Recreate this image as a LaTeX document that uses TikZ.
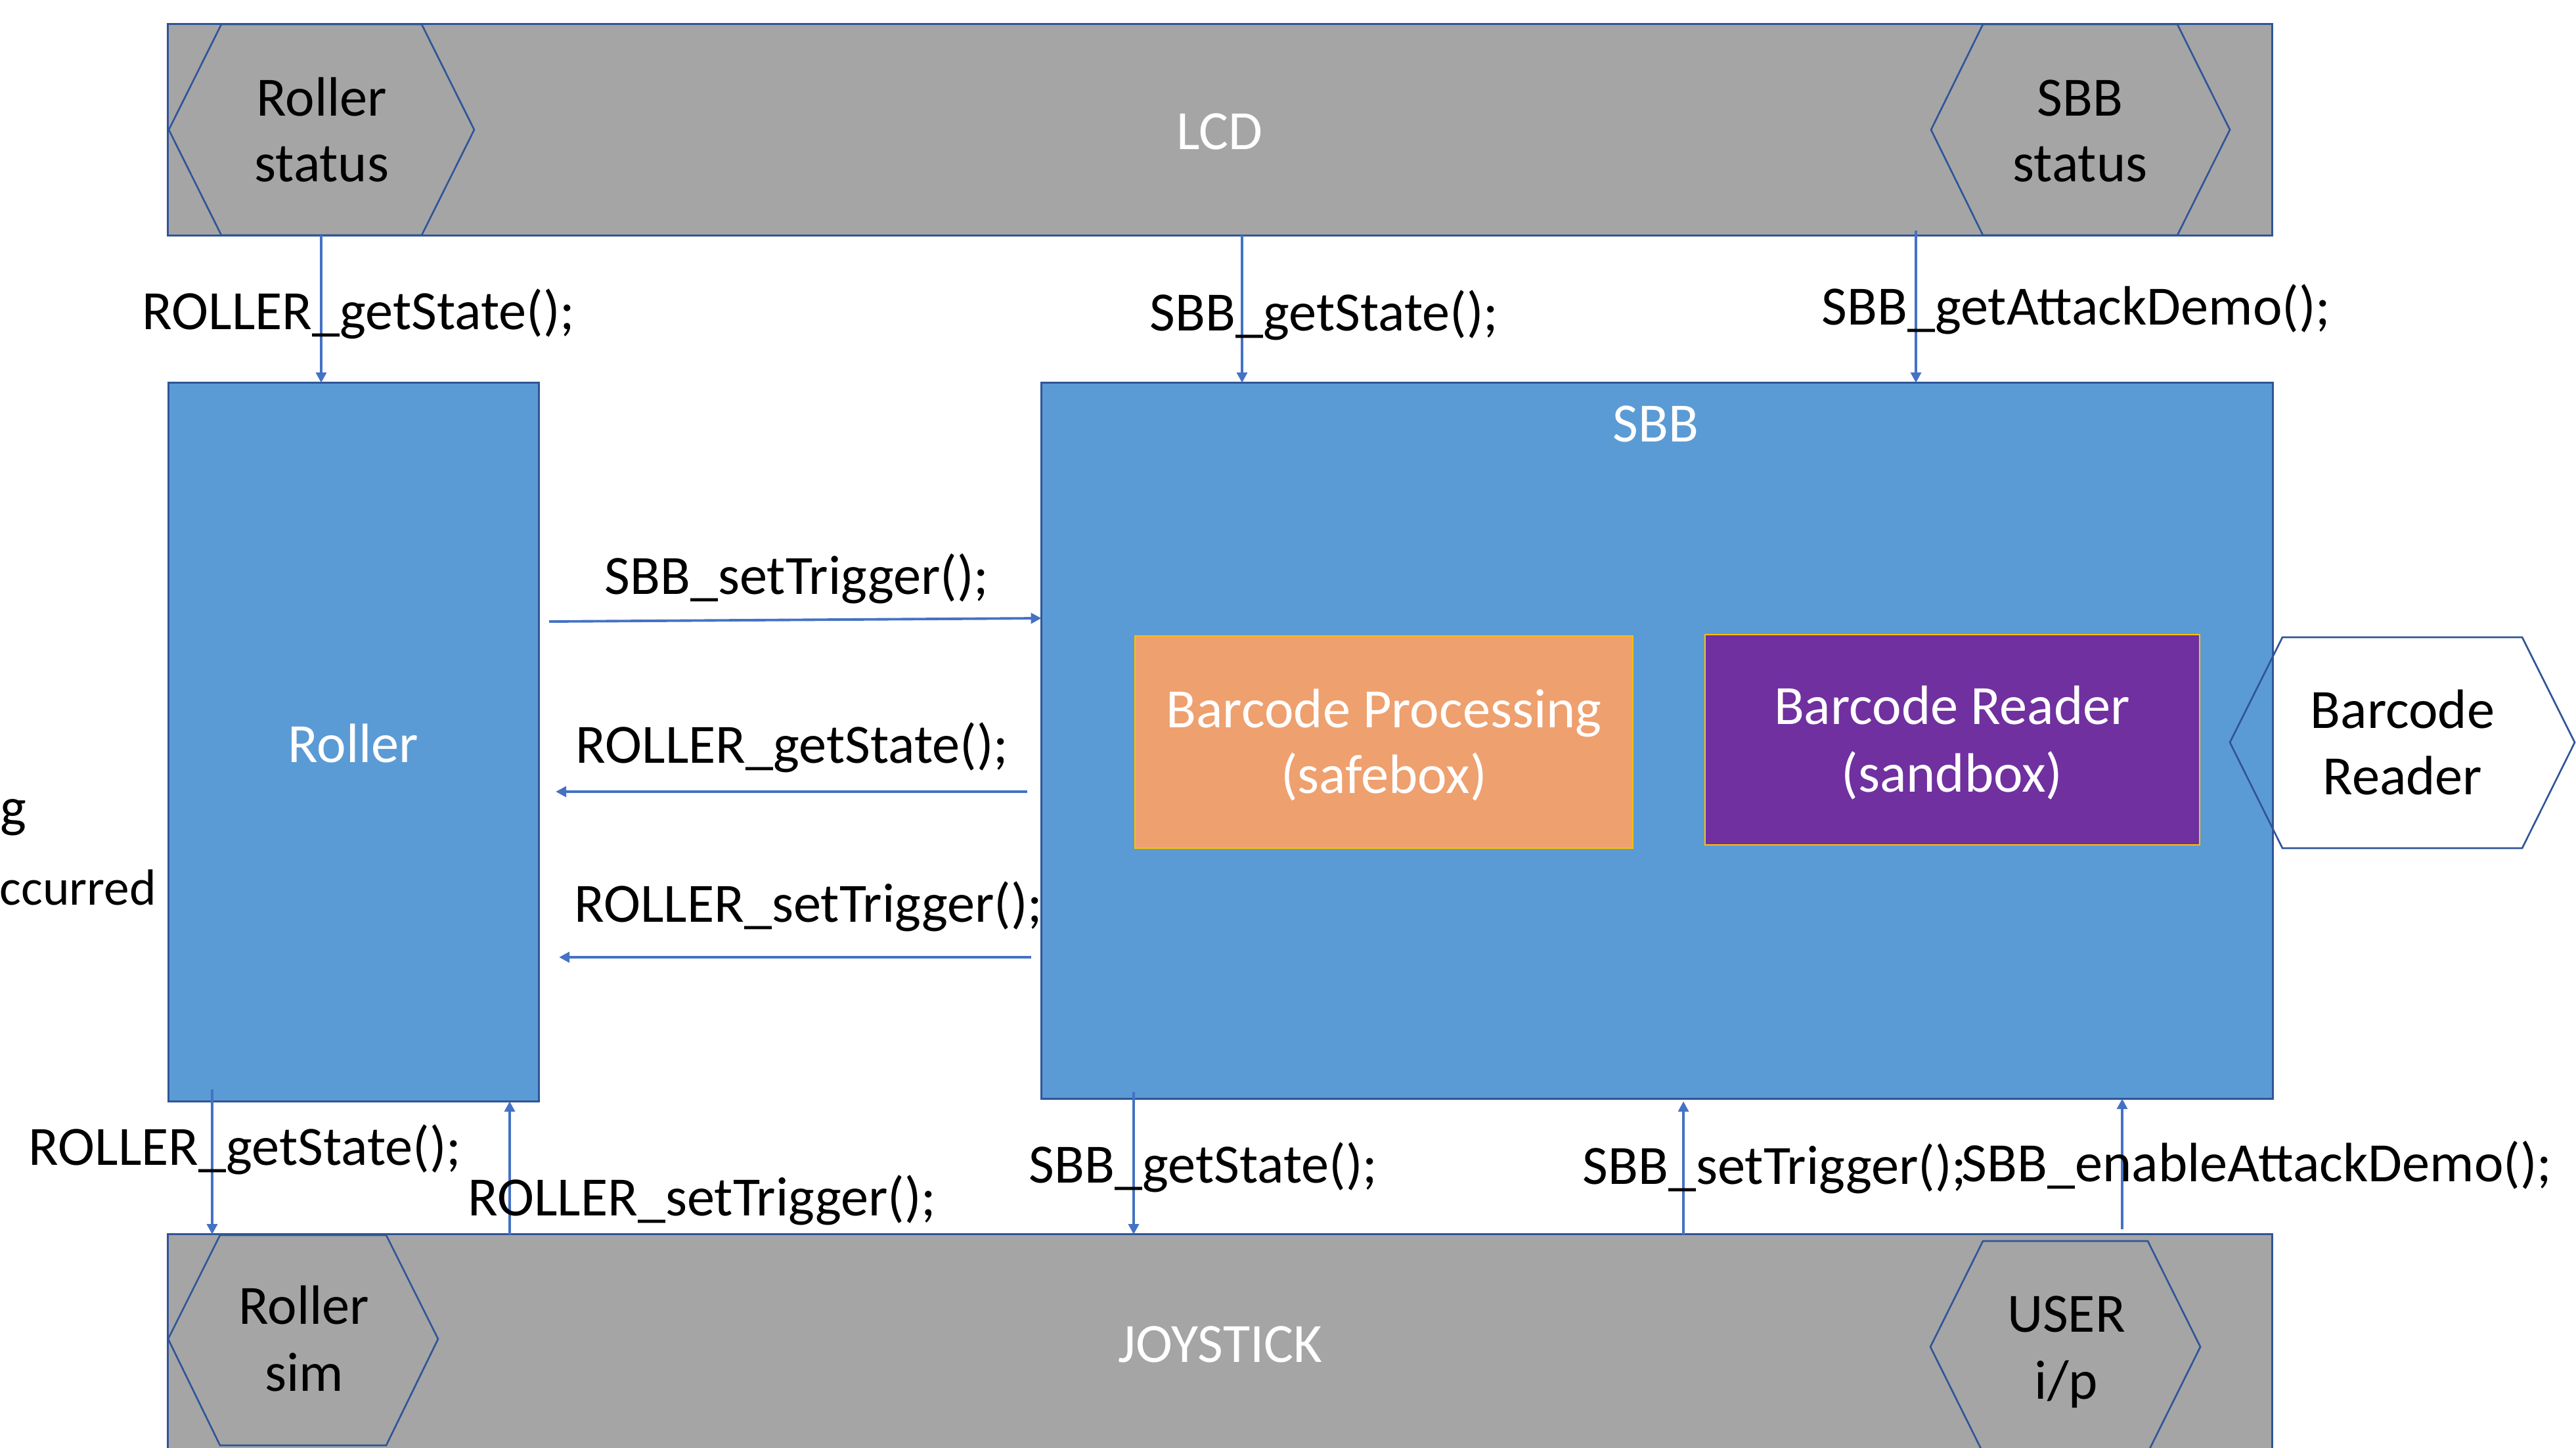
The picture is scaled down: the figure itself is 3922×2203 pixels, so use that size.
\documentclass[tikz,border=0pt]{standalone}
\usepackage{fontspec}
\setmainfont{Carlito}
\usetikzlibrary{arrows.meta,calc}
\definecolor{greyfill}{HTML}{A5A5A5}
\definecolor{bluefill}{HTML}{5B9BD5}
\definecolor{outl}{HTML}{2F5597}
\definecolor{arrc}{HTML}{4472C4}
\definecolor{orangefill}{HTML}{EEA06F}
\definecolor{purplefill}{HTML}{7030A0}
\definecolor{goldline}{HTML}{FFC000}
\begin{document}
\begin{tikzpicture}[x=0.01cm,y=-0.01cm,
  every node/.style={font=\fontsize{24pt}{28.5pt}\selectfont, inner sep=0pt, outer sep=0pt},
  band/.style={draw=outl, fill=greyfill, line width=0.85pt, rectangle},
  bluebox/.style={draw=outl, fill=bluefill, line width=0.85pt, rectangle},
  innerbox/.style={draw=goldline, line width=0.6pt, rectangle},
  hexline/.style={draw=outl, line width=0.75pt, line join=miter},
  wtext/.style={text=white, anchor=base},
  btext/.style={text=black, anchor=base},
  arr/.style={draw=arrc, line width=1.1pt, -{Triangle[length=4.5pt,width=4.5pt]}}
]
\useasboundingbox (0,0) rectangle (3922,2203);
\clip (0,0) rectangle (3922,2203);

% ---------- LCD band ----------
\node[band, minimum width=32.03cm, minimum height=3.21cm] (lcd) at (1857.5,197.5) {};
\draw[hexline] (257,197.5) -- (337,37) -- (642,37) -- (722,197.5) -- (642,358) -- (337,358) -- cycle;
\draw[hexline] (2940,197.5) -- (3019,37) -- (3315,37) -- (3395,197.5) -- (3315,358) -- (3019,358) -- cycle;
\node[wtext] (lcdt) at (1857,227) {LCD};
\node[btext] (rs1) at (490,176) {Roller};
\node[btext] (rs2) at (490,276) {status};
\node[btext] (ss1) at (3167,176) {SBB};
\node[btext] (ss2) at (3167,276) {status};

% ---------- JOYSTICK band ----------
\node[band, minimum width=32.03cm, minimum height=3.81cm] (joy) at (1857.5,2069.5) {};
\draw[hexline] (256,2038) -- (335,1880) -- (588,1880) -- (667,2038) -- (588,2200) -- (335,2200) -- cycle;
\draw[hexline] (2939,2050) -- (3019,1889) -- (3270,1889) -- (3350,2050) -- (3270,2211) -- (3019,2211) -- cycle;
\node[wtext] (joyt) at (1858,2073) {JOYSTICK};
\node[btext] (rsim1) at (463,2015) {Roller};
\node[btext] (rsim2) at (463,2117) {sim};
\node[btext] (usr1) at (3146,2027) {USER};
\node[btext] (usr2) at (3146,2129) {i/p};

% ---------- Roller ----------
\node[bluebox, minimum width=5.63cm, minimum height=10.93cm] (roller) at (538.5,1129.5) {};
\node[wtext] (rollert) at (538,1160) {Roller};

% ---------- SBB ----------
\node[bluebox, minimum width=18.74cm, minimum height=10.89cm] (sbb) at (2523,1127.5) {};
\node[wtext] (sbbt) at (2521,672) {SBB};
\node[innerbox, fill=orangefill, minimum width=7.58cm, minimum height=3.23cm] (bp) at (2107,1129.5) {};
\node[wtext] (bp1) at (2107,1107) {Barcode Processing};
\node[wtext] (bp2) at (2107,1207) {(safebox)};
\node[innerbox, fill=purplefill, minimum width=7.53cm, minimum height=3.20cm] (br) at (2972.5,1126) {};
\node[wtext] (br1) at (2972,1102) {Barcode Reader};
\node[wtext] (br2) at (2972,1205) {(sandbox)};

% ---------- Barcode Reader hexagon ----------
\draw[hexline] (3395,1130) -- (3475,970) -- (3840,970) -- (3920,1130) -- (3840,1291) -- (3475,1291) -- cycle;
\node[btext] (bcr1) at (3658,1108) {Barcode};
\node[btext] (bcr2) at (3658,1209) {Reader};

% ---------- left text ----------
\node[btext, anchor=base west] (lt1) at (1,1257) {g};
\node[btext, anchor=base east, font=\fontsize{22pt}{26pt}\selectfont] (lt2) at (238,1377) {ccurred};

% ---------- connectors ----------
\draw[arr] (lcd.south -| 489,0) -- (roller.north -| 489,0);
\draw[arr] (lcd.south -| 1891,0) -- (sbb.north -| 1891,0);
\draw[arr] ($(lcd.south -| 2917,0)+(0,-7)$) -- (sbb.north -| 2917,0);

\draw[arr] ($(roller.east |- 0,946)+(16,0)$) -- (sbb.west |- 0,941);
\draw[arr] ($(sbb.west |- 0,1205)+(-21,0)$) -- ($(roller.east |- 0,1205)+(26,0)$);
\draw[arr] ($(sbb.west |- 0,1457)+(-15,0)$) -- ($(roller.east |- 0,1457)+(31,0)$);

\draw[arr] ($(roller.south -| 323,0)+(0,-18)$) -- (joy.north -| 323,0);
\draw[arr] (joy.north -| 776,0) -- (roller.south -| 776,0);
\draw[arr] ($(sbb.south -| 1726,0)+(0,-10)$) -- (joy.north -| 1726,0);
\draw[arr] (joy.north -| 2563,0) -- ($(sbb.south -| 2563,0)+(0,4)$);
\draw[arr] ($(joy.north -| 3231,0)+(0,-8)$) -- (sbb.south -| 3231,0);

% ---------- connector labels ----------
\node[btext] (l1) at (546,501) {ROLLER\_getState();};
\node[btext] (l2) at (2016,503) {SBB\_getState();};
\node[btext] (l3) at (3161,494) {SBB\_getAttackDemo();};
\node[btext] (l4) at (1213,904) {SBB\_setTrigger();};
\node[btext] (l5) at (1206,1161) {ROLLER\_getState();};
\node[btext] (l6) at (1231,1403) {ROLLER\_setTrigger();};
\node[btext] (l7) at (373,1773) {ROLLER\_getState();};
\node[btext] (l8) at (1069,1850) {ROLLER\_setTrigger();};
\node[btext] (l9) at (1832,1800) {SBB\_getState();};
\node[btext] (l10) at (2702,1802) {SBB\_setTrigger();};
\node[btext] (l11) at (3436,1798) {SBB\_enableAttackDemo();};
\end{tikzpicture}
\end{document}
